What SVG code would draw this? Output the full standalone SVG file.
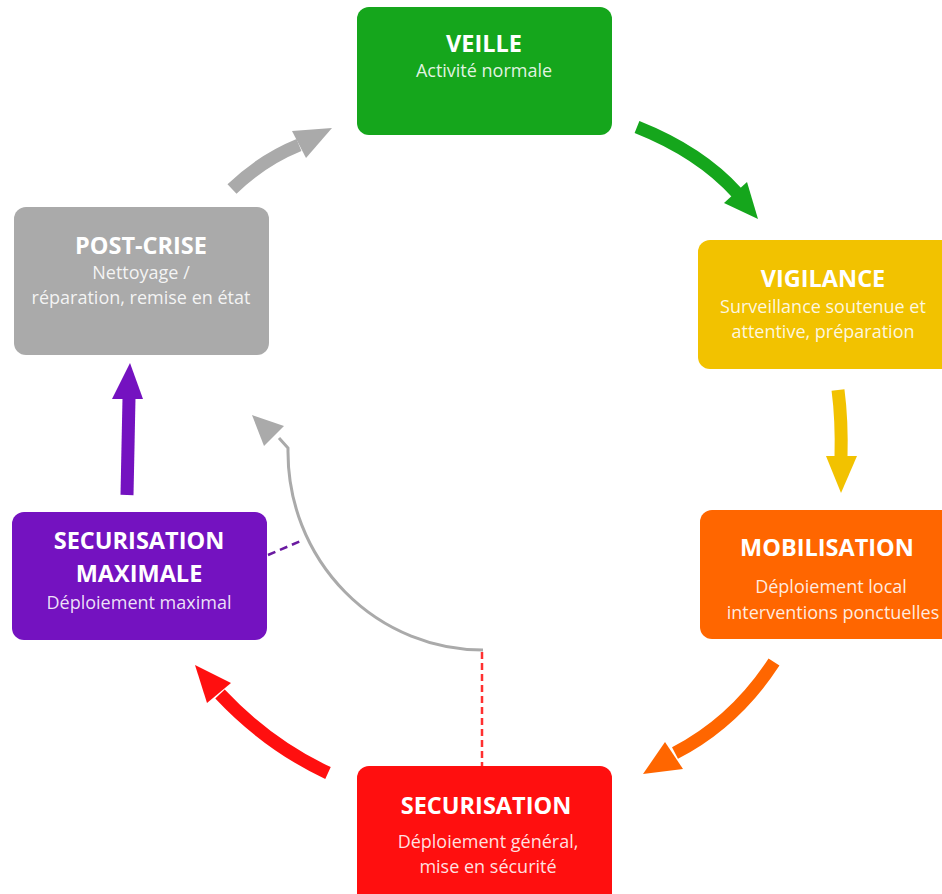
<svg xmlns="http://www.w3.org/2000/svg" width="942" height="894" viewBox="0 0 942 894">
  <style>
    .title { font-family: "Open Sans", "Liberation Sans", sans-serif; font-weight: 700; font-size: 23.5px; fill: #ffffff; text-anchor: middle; }
    .sub { font-family: "Open Sans", "Liberation Sans", sans-serif; font-size: 18px; fill: #ffffff; fill-opacity: 0.88; text-anchor: middle; }
    .body { fill: none; stroke-width: 13; stroke-linecap: butt; }
    .green { fill: #15a61c; stroke: #15a61c; }
    .yellow { fill: #f2c200; stroke: #f2c200; }
    .orange { fill: #ff6600; stroke: #ff6600; }
    .red { fill: #ff0f0f; stroke: #ff0f0f; }
    .purple { fill: #7412c0; stroke: #7412c0; }
    .grey { fill: #aaaaaa; stroke: #aaaaaa; }
    .box { stroke: none; }
    .head { stroke: none; }
  </style>
  <rect width="942" height="894" fill="#ffffff"/>

  <!-- cycle connectors -->
  <g id="connectors">
    <!-- veille -> vigilance -->
    <path class="body green" style="fill:none" d="M 637,127 Q 700,152 737,193"/>
    <polygon class="head green" points="747,182 758,219 724,203"/>
    <!-- vigilance -> mobilisation -->
    <path class="body yellow" style="fill:none" d="M 838,390 Q 842,420 841,458"/>
    <polygon class="head yellow" points="826,456 857,456 841,493"/>
    <!-- mobilisation -> securisation -->
    <path class="body orange" style="fill:none" d="M 774,662 Q 735,722 675,753"/>
    <polygon class="head orange" points="665,742 683,769 643,774"/>
    <!-- securisation -> securisation maximale -->
    <path class="body red" style="fill:none" d="M 328,773 Q 268,745 220,694"/>
    <polygon class="head red" points="231,683 207,703 195,665"/>
    <!-- securisation maximale -> post-crise -->
    <path class="body purple" style="fill:none" d="M 127,495 L 129,398"/>
    <polygon class="head purple" points="112,399 143,399 130,363"/>
    <!-- post-crise -> veille -->
    <path class="body grey" style="fill:none" d="M 232,189 Q 262,160 299,145"/>
    <polygon class="head grey" points="292,131 306,158 332,128"/>
    <!-- shortcut securisation -> post-crise -->
    <path d="M 483,650 A 195,198 0 0 1 288,452 L 288,448 L 279,438" fill="none" stroke="#aaaaaa" stroke-width="3"/>
    <polygon points="252,415 284,426 264,446" fill="#aaaaaa"/>
    <!-- dashed links -->
    <line x1="268" y1="555" x2="303" y2="540" stroke="#6a1aa0" stroke-width="2.5" stroke-dasharray="8 5"/>
    <line x1="482" y1="652" x2="482" y2="767" stroke="#ff3030" stroke-width="2.5" stroke-dasharray="7 4"/>
  </g>

  <g id="veille">
    <rect class="box green" x="357" y="7" width="255" height="128" rx="12"/>
    <text class="title" x="484" y="52">VEILLE</text>
    <text class="sub" x="484" y="77">Activité normale</text>
  </g>

  <g id="vigilance">
    <rect class="box yellow" x="698" y="240" width="262" height="129" rx="12"/>
    <text class="title" x="823" y="287">VIGILANCE</text>
    <text class="sub" x="823" y="313">Surveillance soutenue et</text>
    <text class="sub" x="823" y="338">attentive, préparation</text>
  </g>

  <g id="mobilisation">
    <rect class="box orange" x="700" y="510" width="262" height="129" rx="12"/>
    <text class="title" x="827" y="556">MOBILISATION</text>
    <text class="sub" x="831" y="593">Déploiement local</text>
    <text class="sub" x="833" y="619">interventions ponctuelles</text>
  </g>

  <g id="securisation">
    <rect class="box red" x="357" y="766" width="255" height="140" rx="12"/>
    <text class="title" x="486" y="814">SECURISATION</text>
    <text class="sub" x="488" y="848">Déploiement général,</text>
    <text class="sub" x="488" y="873">mise en sécurité</text>
  </g>

  <g id="securisation-maximale">
    <rect class="box purple" x="12" y="512" width="255" height="128" rx="12"/>
    <text class="title" x="139" y="549">SECURISATION</text>
    <text class="title" x="139" y="582">MAXIMALE</text>
    <text class="sub" x="139" y="609">Déploiement maximal</text>
  </g>

  <g id="post-crise">
    <rect class="box grey" x="14" y="207" width="255" height="148" rx="12"/>
    <text class="title" x="141" y="254">POST-CRISE</text>
    <text class="sub" x="141" y="279">Nettoyage /</text>
    <text class="sub" x="141" y="304">réparation, remise en état</text>
  </g>
</svg>
